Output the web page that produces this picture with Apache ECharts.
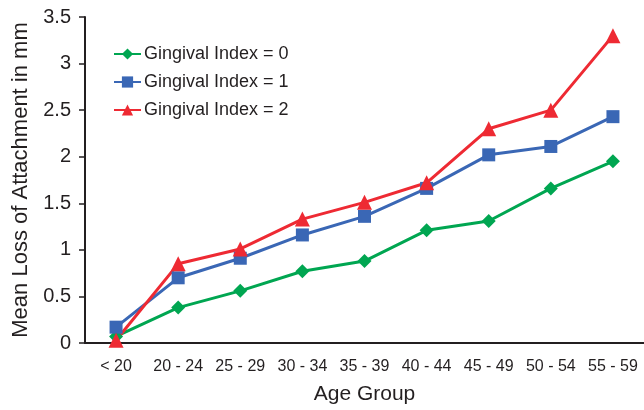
<!DOCTYPE html>
<html><head><meta charset="utf-8">
<script src="https://cdn.jsdelivr.net/npm/echarts@6/dist/echarts.min.js"></script>
<style>html,body{margin:0;padding:0;background:#fff}#c{width:644px;height:410px}</style>
</head><body><div id="c"></div>
<script>
const categories = ['< 20','20 - 24','25 - 29','30 - 34','35 - 39','40 - 44','45 - 49','50 - 54','55 - 59'];
const gi0 = [0.07,0.38,0.56,0.77,0.88,1.21,1.31,1.66,1.95];
const gi1 = [0.17,0.70,0.91,1.16,1.36,1.66,2.02,2.11,2.43];
const gi2 = [0.03,0.85,1.01,1.33,1.51,1.72,2.30,2.50,3.30];
const seriesNames = ['Gingival Index = 0','Gingival Index = 1','Gingival Index = 2'];
const yTicks = [0,0.5,1,1.5,2,2.5,3,3.5];

const font = 'Liberation Sans, Arial, Helvetica, sans-serif';
const txt = '#231f20';
const chart = echarts.init(document.getElementById('c'), null, {renderer:'canvas'});
function mk(name, data, color, symbol, size){
  return {name, type:'line', data, symbol, symbolSize:size,
    lineStyle:{color, width:3}, itemStyle:{color}, z: 2};
}
chart.setOption({
  animation:false,
  grid:{left:85, right:-4, top:17, bottom:62},
  legend:{orient:'vertical', left:108, top:40, itemWidth:27, itemHeight:14, itemGap:10,
    textStyle:{fontFamily:font, fontSize:18, color:txt, padding:[0,0,0,-2]}, data:seriesNames},
  xAxis:{type:'category', data:categories, boundaryGap:true,
    axisLine:{lineStyle:{color:txt, width:2}}, axisTick:{show:false},
    axisLabel:{fontFamily:font, fontSize:16, color:txt, margin:16, interval:0},
    name:'Age Group', nameLocation:'middle', nameGap:41,
    nameTextStyle:{fontFamily:font, fontSize:21, color:txt}},
  yAxis:{type:'value', min:0, max:3.5, interval:0.5,
    axisLine:{show:true, lineStyle:{color:txt, width:2}},
    axisTick:{show:true, inside:false, length:6, lineStyle:{color:txt, width:1.5}},
    splitLine:{show:false},
    axisLabel:{fontFamily:font, fontSize:20, color:txt, margin:14,
      formatter:v => yTicks.includes(v) ? String(v) : ''},
    name:'Mean Loss of Attachment in mm', nameLocation:'middle', nameGap:50,
    nameTextStyle:{fontFamily:font, fontSize:22, color:txt}},
  series:[
    mk(seriesNames[0], gi0, '#00a651', 'diamond', 14),
    mk(seriesNames[1], gi1, '#3a67b5', 'rect', 13),
    mk(seriesNames[2], gi2, '#ee2a33', 'triangle', 15)
  ]
});
</script></body></html>
